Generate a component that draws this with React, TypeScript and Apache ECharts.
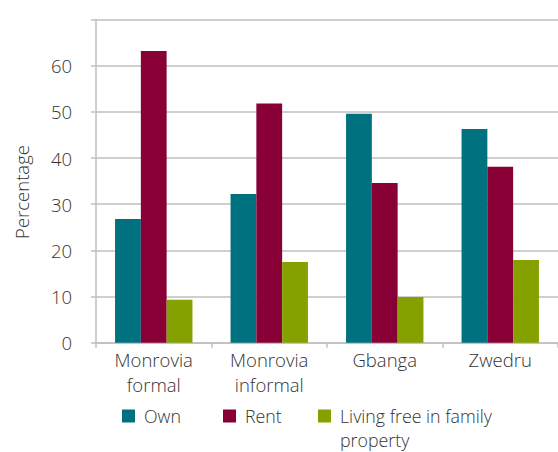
import React, { useEffect, useRef } from "react";
import * as echarts from "echarts";

const categories = ["Monrovia\nformal", "Monrovia\ninformal", "Gbanga", "Zwedru"];
const seriesNames = ["Own", "Rent", "Living free in family property"];
const ownValues = [26.8, 32.2, 49.6, 46.3];
const rentValues = [63.2, 51.8, 34.6, 38.1];
const freeValues = [9.3, 17.5, 9.9, 17.9];
const colors = ["#00717E", "#890037", "#84A100"];
const yTicks = [0, 10, 20, 30, 40, 50, 60, 70];

const FONT = "Open Sans";
const WEIGHT = 300;
const TEXT = "#333333";
const GRID = "#BFBFBF";

export default function App() {
  const ref = useRef<HTMLDivElement>(null);
  useEffect(() => {
    if (!ref.current) return;
    const chart = echarts.init(ref.current, undefined, { renderer: "svg" });
    const legendBase = (name: string, left: number) => ({
      data: [name],
      left,
      top: 406,
      itemWidth: 13,
      itemHeight: 13,
      icon: "rect",
      padding: 0,
      selectedMode: false,
      formatter: (n: string) => (n.startsWith("Living") ? "Living free in family" : n),
      textStyle: { fontFamily: FONT, fontWeight: WEIGHT, fontSize: 17.8, lineHeight: 20, color: TEXT, padding: [0, 0, 0, 4] },
    });
    chart.setOption({
      animation: false,
      grid: { left: 96, right: 0, top: 19.5, bottom: 109.3, containLabel: false },
      xAxis: {
        type: "category",
        data: categories,
        axisLine: { lineStyle: { color: GRID, width: 1.5 } },
        axisTick: { show: true, length: 5, lineStyle: { color: GRID, width: 1.5 } },
        axisLabel: {
          fontFamily: FONT,
          fontWeight: WEIGHT,
          fontSize: 18.5,
          color: TEXT,
          margin: 4,
          lineHeight: 25,
          interval: 0,
        },
      },
      yAxis: {
        type: "value",
        min: 0,
        max: yTicks[yTicks.length - 1],
        interval: 10,
        axisLine: { show: true, lineStyle: { color: GRID, width: 1.5 } },
        axisTick: { show: true, length: 5, lineStyle: { color: GRID, width: 1.5 } },
        splitLine: { lineStyle: { color: GRID, width: 1.5 } },
        axisLabel: {
          fontFamily: FONT,
          fontWeight: WEIGHT,
          fontSize: 18.5,
          color: TEXT,
          margin: 24,
          formatter: (v: number) => (v === 70 ? "" : String(v)),
        },
      },
      legend: [
        legendBase(seriesNames[0], 122),
        legendBase(seriesNames[1], 223),
        legendBase(seriesNames[2], 318),
      ],
      graphic: [
        {
          type: "text",
          x: 21,
          y: 192,
          rotation: Math.PI / 2,
          style: {
            text: "Percentage",
            fontFamily: FONT,
            fontWeight: WEIGHT,
            fontSize: 18.5,
            fill: TEXT,
            textAlign: "center",
            textVerticalAlign: "middle",
          },
        },
        {
          type: "text",
          left: 340,
          top: 430,
          style: { text: "property", fontFamily: FONT, fontWeight: WEIGHT, fontSize: 17.8, lineHeight: 20, fill: TEXT },
        },
      ],
      series: [
        { name: seriesNames[0], type: "bar", data: ownValues, itemStyle: { color: colors[0] }, barGap: "0%", barCategoryGap: "33%" },
        { name: seriesNames[1], type: "bar", data: rentValues, itemStyle: { color: colors[1] }, barGap: "0%", barCategoryGap: "33%" },
        { name: seriesNames[2], type: "bar", data: freeValues, itemStyle: { color: colors[2] }, barGap: "0%", barCategoryGap: "33%" },
      ],
    });
    return () => chart.dispose();
  }, []);
  return <div ref={ref} style={{ width: 558, height: 452, position: "absolute", left: 0, top: 0 }} />;
}
